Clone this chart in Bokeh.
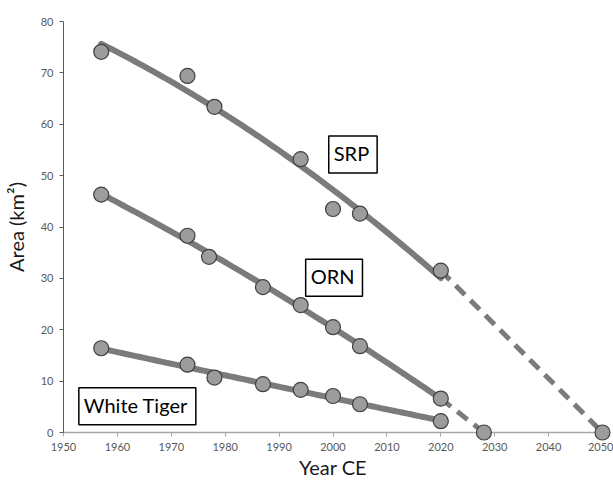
import numpy as np
from bokeh.plotting import figure
from bokeh.models import Label, Range1d, FixedTicker
from bokeh.embed import file_html
from bokeh.resources import INLINE

# Observed areas (km^2) by year for each forest block
srp_years = [1957, 1973, 1978, 1994, 2000, 2005, 2020]
srp_area = [74.1, 69.4, 63.4, 53.2, 43.5, 42.6, 31.5]

orn_years = [1957, 1973, 1977, 1987, 1994, 2000, 2005, 2020]
orn_area = [46.3, 38.3, 34.2, 28.3, 24.8, 20.5, 16.8, 6.6]

tiger_years = [1957, 1973, 1978, 1987, 1994, 2000, 2005, 2020]
tiger_area = [16.4, 13.2, 10.7, 9.4, 8.3, 7.1, 5.5, 2.2]

# Projected year at which the area reaches zero
srp_zero_year = 2050
orn_zero_year = 2028

x_ticks = list(range(1950, 2051, 10))
y_ticks = list(range(0, 81, 10))

LINE = "#7b7b7b"
FILL = "#9c9c9c"
EDGE = "#404040"
FONT = "Lato"

p = figure(
    width=613, height=481,
    x_range=Range1d(1950, 2050), y_range=Range1d(0, 80),
    output_backend="svg", toolbar_location=None,
    min_border_left=62, min_border_right=11, min_border_top=21, min_border_bottom=49,
)
p.outline_line_color = None
p.xgrid.visible = False
p.ygrid.visible = False
p.background_fill_color = "white"


def trend(years, area, deg):
    coef = np.polyfit(years, area, deg)
    xs = np.linspace(min(years), max(years), 80)
    return xs, np.polyval(coef, xs)


# fitted trend lines over the observed period
for yrs, ar, deg in [(srp_years, srp_area, 2), (orn_years, orn_area, 2), (tiger_years, tiger_area, 2)]:
    xs, ys = trend(yrs, ar, deg)
    p.line(xs, ys, line_color=LINE, line_width=6, line_cap="round")

# dashed projections to zero (drawn above the frame edge so the end is not cut)
p.line([srp_years[-1], srp_zero_year], [srp_area[-1], 0], line_color=LINE,
       line_width=5, line_dash="13 8", level="overlay")
p.line([orn_years[-1], orn_zero_year], [orn_area[-1], 0], line_color=LINE,
       line_width=5, line_dash="13 8", level="overlay")

# observations
for yrs, ar in [(srp_years, srp_area), (orn_years, orn_area), (tiger_years, tiger_area)]:
    p.scatter(yrs, ar, size=15, fill_color=FILL, line_color=EDGE, line_width=1.2,
              level="overlay")
p.scatter([srp_zero_year, orn_zero_year], [0, 0], size=15, fill_color=FILL,
          line_color=EDGE, line_width=1.2, level="overlay")

# axes
xa = p.xaxis[0]
xa.ticker = FixedTicker(ticks=x_ticks)
xa.axis_line_color = "#a6a6a6"
xa.axis_line_width = 1.5
xa.major_tick_line_color = "#a6a6a6"
xa.major_tick_in = 0
xa.major_tick_out = 4
xa.minor_tick_line_color = None
xa.major_label_text_font = FONT
xa.major_label_text_font_size = "11px"
xa.major_label_text_color = "#595959"
xa.major_label_standoff = 6
xa.axis_label = "Year CE"
xa.axis_label_text_font = FONT
xa.axis_label_text_font_size = "20px"
xa.axis_label_text_font_style = "normal"
xa.axis_label_text_color = "#1a1a1a"
xa.axis_label_standoff = 1

ya = p.yaxis[0]
ya.ticker = FixedTicker(ticks=y_ticks)
ya.axis_line_color = "#595959"
ya.axis_line_width = 1
ya.major_tick_line_color = "#595959"
ya.major_tick_in = 0
ya.major_tick_out = 4
ya.minor_tick_line_color = None
ya.major_label_text_font = FONT
ya.major_label_text_font_size = "11px"
ya.major_label_text_color = "#595959"
ya.major_label_standoff = 6
ya.axis_label = "Area (km²)"
ya.axis_label_text_font = FONT
ya.axis_label_text_font_size = "20px"
ya.axis_label_text_font_style = "normal"
ya.axis_label_text_color = "#1a1a1a"
ya.axis_label_standoff = 10

# series name boxes
for x, y, name in [(2003.7, 54.1, "SRP"), (2000.2, 30.1, "ORN"), (1963.7, 5.1, "White Tiger")]:
    p.add_layout(Label(x=x, y=y, text=name, text_align="center", text_baseline="middle",
                       text_font=FONT, text_font_size="20px", text_color="black",
                       border_line_color="black", border_line_width=1.5,
                       background_fill_color="white", padding=(5, 8, 5, 8)))

open("out.html", "w").write(file_html(p, INLINE))
